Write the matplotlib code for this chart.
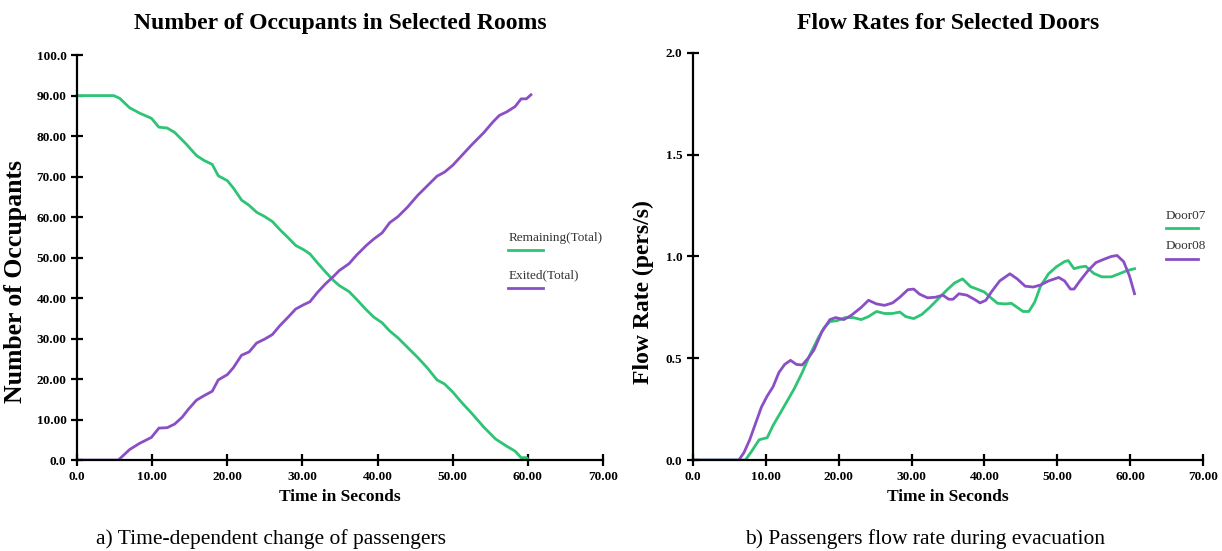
import numpy as np
import matplotlib
matplotlib.use("Agg")
import matplotlib.pyplot as plt
from matplotlib.lines import Line2D

plt.rcParams['font.family'] = ['Liberation Serif', 'DejaVu Serif']

GREEN = '#2ec475'
PURPLE = '#8a4fc4'

# left chart: occupants over time
occ_t = [0, 4.9, 5.7, 7.0, 8.3, 9.9, 10.9, 12.0, 13.0, 14.6, 15.9, 16.9, 18.0, 18.8,
         20.0, 20.8, 21.9, 22.9, 23.9, 25.0, 26.0, 27.0, 28.1, 29.1, 30.2, 31.0,
         32.0, 33.0, 34.1, 34.9, 36.2, 37.2, 38.5, 39.5, 40.6, 41.6, 42.7, 44.0,
         45.3, 46.6, 47.9, 48.9, 50.0, 51.2, 52.5, 54.1, 55.7, 57.2, 58.3, 59.1,
         59.8, 60.1]
remaining = [90, 90, 89.3, 87.0, 85.7, 84.4, 82.2, 82.0, 80.9, 77.9, 75.2, 74.0, 73.0,
             70.2, 69.0, 67.2, 64.2, 62.9, 61.2, 60.1, 58.9, 56.9, 54.9, 53.0, 51.9,
             50.9, 48.7, 46.6, 44.4, 43.1, 41.6, 39.7, 37.1, 35.3, 33.9, 31.9, 30.2,
             27.8, 25.4, 22.8, 19.8, 18.8, 16.8, 14.2, 11.6, 8.2, 5.2, 3.4, 2.2, 0.6,
             0.6, 0.0]

exit_t = [0, 5.5, 7.0, 8.3, 9.9, 10.9, 12.0, 13.0, 14.0, 14.8, 15.9, 16.9, 18.0, 18.8,
          20.0, 20.8, 21.9, 22.9, 23.9, 25.0, 26.0, 27.0, 28.1, 29.1, 30.2, 31.0,
          32.0, 33.0, 34.1, 34.9, 36.2, 37.2, 38.5, 39.5, 40.6, 41.6, 42.7, 44.0,
          45.3, 46.6, 47.9, 48.9, 50.0, 51.2, 52.5, 54.1, 55.4, 56.2, 57.2, 58.3,
          59.1, 59.8, 60.4]
exited = [0, 0, 2.6, 4.1, 5.6, 7.9, 8.0, 8.9, 10.6, 12.5, 14.8, 15.9, 17.0, 19.8,
          21.1, 22.8, 25.9, 26.7, 28.9, 29.9, 31.0, 33.2, 35.3, 37.3, 38.4, 39.1,
          41.4, 43.4, 45.3, 46.8, 48.5, 50.6, 53.0, 54.6, 56.1, 58.6, 60.1, 62.5,
          65.3, 67.7, 70.1, 71.1, 72.8, 75.2, 77.8, 80.8, 83.6, 85.1, 86.0, 87.3,
          89.2, 89.2, 90.2]

# right chart: door flow rates
d7_t = [0, 7.2, 8.0, 9.1, 10.2, 11.0, 12.3, 13.9, 15.0, 16.1, 17.2, 18.0, 18.8, 19.8,
        20.9, 22.0, 23.1, 24.1, 25.2, 26.3, 27.4, 28.4, 29.2, 30.3, 31.4, 32.5,
        33.8, 34.9, 35.9, 37.0, 38.1, 39.2, 40.0, 40.8, 41.8, 42.9, 43.7, 44.5,
        45.3, 46.1, 46.9, 47.7, 48.8, 49.9, 51.0, 51.5, 52.3, 53.1, 53.9, 55.0,
        56.1, 57.4, 58.5, 59.5, 60.6]
door07 = [0, 0, 0.04, 0.10, 0.11, 0.17, 0.25, 0.35, 0.43, 0.52, 0.60, 0.65, 0.68,
          0.685, 0.70, 0.70, 0.69, 0.705, 0.73, 0.72, 0.72, 0.727, 0.705, 0.695,
          0.715, 0.75, 0.797, 0.837, 0.87, 0.89, 0.852, 0.837, 0.825, 0.80, 0.77,
          0.767, 0.77, 0.75, 0.73, 0.73, 0.776, 0.854, 0.915, 0.95, 0.975, 0.98,
          0.94, 0.948, 0.952, 0.917, 0.90, 0.90, 0.915, 0.93, 0.94]

d8_t = [0, 6.3, 7.0, 7.8, 8.6, 9.4, 10.2, 11.0, 11.8, 12.6, 13.4, 14.2, 15.0, 15.8,
        16.6, 17.7, 18.8, 19.6, 20.7, 21.7, 23.1, 24.1, 25.2, 26.3, 27.4, 28.4,
        29.5, 30.3, 31.1, 32.2, 33.3, 34.3, 35.1, 35.7, 36.5, 37.6, 38.6, 39.4,
        40.2, 41.0, 42.1, 43.5, 44.5, 45.6, 46.7, 47.7, 48.8, 50.2, 51.0, 51.8,
        52.3, 53.1, 54.2, 55.3, 56.3, 57.4, 58.2, 59.1, 59.9, 60.6]
door08 = [0, 0, 0.036, 0.10, 0.18, 0.26, 0.315, 0.36, 0.43, 0.47, 0.49, 0.47, 0.467,
          0.50, 0.54, 0.63, 0.69, 0.70, 0.69, 0.71, 0.75, 0.785, 0.767, 0.76, 0.772,
          0.80, 0.837, 0.84, 0.815, 0.797, 0.80, 0.81, 0.79, 0.79, 0.817, 0.81,
          0.79, 0.772, 0.785, 0.828, 0.88, 0.915, 0.89, 0.854, 0.85, 0.86, 0.88,
          0.897, 0.88, 0.84, 0.84, 0.88, 0.93, 0.97, 0.985, 1.0, 1.005, 0.975,
          0.905, 0.817]

x_ticks = [0, 10, 20, 30, 40, 50, 60, 70]
x_labels = ['0.0', '10.00', '20.00', '30.00', '40.00', '50.00', '60.00', '70.00']
occ_ticks = [0, 10, 20, 30, 40, 50, 60, 70, 80, 90, 100]
occ_labels = ['0.0', '10.00', '20.00', '30.00', '40.00', '50.00', '60.00', '70.00',
              '80.00', '90.00', '100.0']
flow_ticks = [0, 0.5, 1.0, 1.5, 2.0]
flow_labels = ['0.0', '0.5', '1.0', '1.5', '2.0']


def style_axes(ax):
    for s in ['top', 'right']:
        ax.spines[s].set_visible(False)
    for s in ['left', 'bottom']:
        ax.spines[s].set_linewidth(1.6)
    ax.tick_params(direction='inout', length=8, width=1.6, labelsize=9.5)
    for lab in ax.get_xticklabels() + ax.get_yticklabels():
        lab.set_fontweight('bold')


fig = plt.figure(figsize=(12.22, 5.51), dpi=100)

ax1 = fig.add_axes([0.063, 0.165, 0.4305, 0.735])
ax1.plot(occ_t, remaining, color=GREEN, lw=2)
ax1.plot(exit_t, exited, color=PURPLE, lw=2)
ax1.set_xlim(0, 70)
ax1.set_ylim(0, 100)
ax1.set_xticks(x_ticks, x_labels)
ax1.set_yticks(occ_ticks, occ_labels)
style_axes(ax1)
ax1.set_title('Number of Occupants in Selected Rooms', fontsize=17, fontweight='bold', pad=19)
ax1.set_xlabel('Time in Seconds', fontsize=12.5, fontweight='bold', labelpad=5)
ax1.set_ylabel('Number of Occupants', fontsize=18.5, fontweight='bold')
ax1.yaxis.set_label_coords(-0.095, 0.44)

ax2 = fig.add_axes([0.567, 0.165, 0.4175, 0.739])
ax2.plot(d7_t, door07, color=GREEN, lw=2)
ax2.plot(d8_t, door08, color=PURPLE, lw=2)
ax2.set_xlim(0, 70)
ax2.set_ylim(0, 2.0)
ax2.set_xticks(x_ticks, x_labels)
ax2.set_yticks(flow_ticks, flow_labels)
style_axes(ax2)
ax2.set_title('Flow Rates for Selected Doors', fontsize=17, fontweight='bold', pad=17)
ax2.set_xlabel('Time in Seconds', fontsize=12.5, fontweight='bold', labelpad=5)
ax2.set_ylabel('Flow Rate (pers/s)', fontsize=17, fontweight='bold')
ax2.yaxis.set_label_coords(-0.076, 0.413)

# legends drawn as text with a line below
def legend_entry(x0, y_text, text, color, length):
    fig.text(x0, y_text, text, fontsize=9.5, color='#333333', va='bottom')
    fig.add_artist(Line2D([x0, x0 + length], [y_text - 0.012, y_text - 0.012],
                          color=color, lw=2, transform=fig.transFigure))

legend_entry(0.416, 0.558, 'Remaining(Total)', GREEN, 0.028)
legend_entry(0.416, 0.490, 'Exited(Total)', PURPLE, 0.028)
legend_entry(0.954, 0.598, 'Door07', GREEN, 0.026)
legend_entry(0.954, 0.542, 'Door08', PURPLE, 0.026)

fig.text(0.222, 0.013, 'a) Time-dependent change of passengers', fontsize=15.5, ha='center')
fig.text(0.757, 0.013, 'b) Passengers flow rate during evacuation', fontsize=15.5, ha='center')

fig.savefig('out.png', dpi=100)
